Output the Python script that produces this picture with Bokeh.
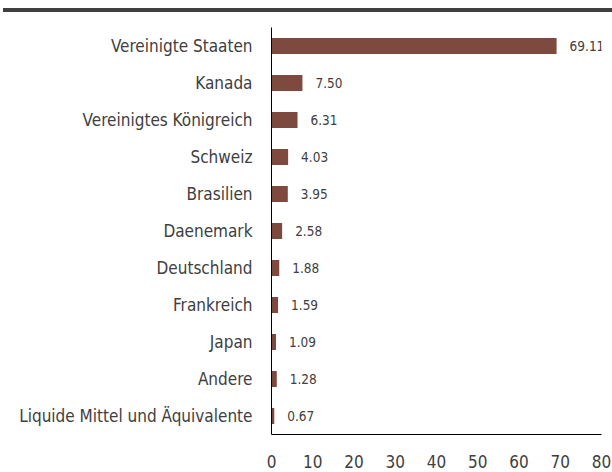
from bokeh.plotting import figure
from bokeh.models import ColumnDataSource, LabelSet, Div, FactorRange, FixedTicker
from bokeh.layouts import column
from bokeh.core.properties import value
from bokeh.embed import file_html
from bokeh.resources import INLINE

categories = ["Vereinigte Staaten", "Kanada", "Vereinigtes Königreich", "Schweiz",
              "Brasilien", "Daenemark", "Deutschland", "Frankreich", "Japan", "Andere",
              "Liquide Mittel und Äquivalente"]
values = [69.11, 7.50, 6.31, 4.03, 3.95, 2.58, 1.88, 1.59, 1.09, 1.28, 0.67]
value_labels = ["69.11", "7.50", "6.31", "4.03", "3.95", "2.58", "1.88", "1.59", "1.09", "1.28", "0.67"]
x_ticks = [0, 10, 20, 30, 40, 50, 60, 70, 80]

FONT = "DejaVu Sans Condensed"
TEXT = "#404040"

src = ColumnDataSource(dict(cat=categories, val=values, lab=value_labels))

p = figure(width=612, height=458, output_backend="svg", toolbar_location=None,
           y_range=FactorRange(*reversed(categories), range_padding=0),
           x_range=(0, 80),
           min_border_left=271, min_border_right=11, min_border_top=15, min_border_bottom=33)
p.hbar(y="cat", right="val", left=0, height=0.43, source=src,
       fill_color="#7E4A40", line_color=None)

labels = LabelSet(x="val", y="cat", text="lab", source=src, x_offset=13,
                  text_baseline="middle", text_font_size="13.5px", text_color=TEXT,
                  text_font=value(FONT))
p.add_layout(labels)

p.xgrid.visible = False
p.ygrid.visible = False
p.outline_line_color = None

p.xaxis.ticker = FixedTicker(ticks=x_ticks)
p.xaxis.major_tick_line_color = None
p.xaxis.minor_tick_line_color = None
p.xaxis.major_label_standoff = 14
p.xaxis.major_label_text_font_size = "17px"
p.xaxis.major_label_text_font = FONT
p.xaxis.major_label_text_color = TEXT
p.xaxis.axis_line_color = "black"

p.yaxis.major_tick_line_color = None
p.yaxis.minor_tick_line_color = None
p.yaxis.major_label_standoff = 13
p.yaxis.major_label_text_font_size = "17px"
p.yaxis.major_label_text_font = FONT
p.yaxis.major_label_text_color = TEXT
p.yaxis.axis_line_color = "black"

bar = Div(text="", width=609, height=4, margin=(8, 0, 0, 3),
          styles={"background-color": "#404040"})

layout = column(bar, p, spacing=0)
open("out.html", "w").write(file_html(layout, INLINE))
